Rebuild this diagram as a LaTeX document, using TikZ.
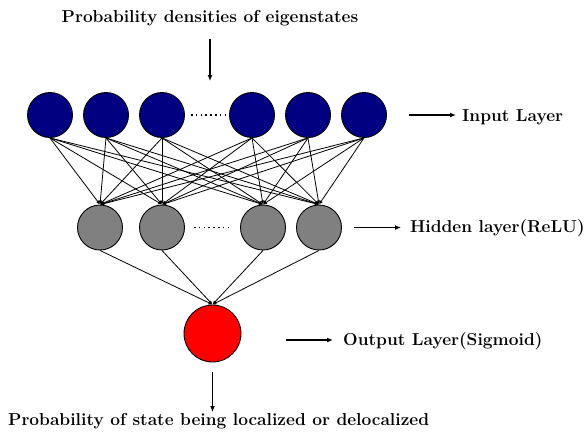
\documentclass[tikz,border=0pt]{standalone}
\usetikzlibrary{arrows.meta}
\definecolor{inblue}{RGB}{0,0,128}
\definecolor{hidgray}{RGB}{128,128,128}
\definecolor{outred}{RGB}{255,0,0}
\begin{document}
\begin{tikzpicture}[x=1pt,y=-1pt,
  neuron/.style={circle,draw=black,line width=0.9pt,inner sep=0pt,minimum size=45pt},
  inneuron/.style={neuron,fill=inblue},
  hidneuron/.style={neuron,fill=hidgray},
  outneuron/.style={neuron,fill=outred,minimum size=57pt},
  link/.style={line width=0.8pt,-{Latex[length=4pt,width=3.5pt]}},
  pointer/.style={line width=1.8pt,-{Latex[length=6pt,width=5pt]}},
  caption/.style={inner sep=0pt,font=\fontsize{17.3}{20}\selectfont\bfseries},
  ellipsis/.style={line width=1.6pt,dash pattern=on 1.6pt off 3.2pt}]
\useasboundingbox (0,0) rectangle (584,432);

% input layer
\foreach \i/\x in {1/50,2/106,3/162,4/252,5/308,6/364}
  \node[inneuron] (in\i) at (\x,115) {};
% hidden layer
\foreach \j/\x in {1/100,2/162,3/263,4/319}
  \node[hidneuron] (hid\j) at (\x,227.5) {};
% output layer
\node[outneuron] (out) at (212.5,333.5) {};

% dotted gaps
\coordinate (ida) at (191,115);
\coordinate (idb) at (227,115);
\draw[ellipsis] (ida) -- (idb);
\coordinate (hda) at (194,227.5);
\coordinate (hdb) at (232,227.5);
\draw[ellipsis] (hda) -- (hdb);

% connections
\foreach \i in {1,...,6}
  \foreach \j in {1,...,4}
    \draw[link] (in\i.south) -- (hid\j.north);
\foreach \j in {1,...,4}
  \draw[link] (hid\j.south) -- (out.north);

% captions and pointers
\node[caption,anchor=base] (topcap) at (210,22) {Probability densities of eigenstates};
\coordinate (ta) at (210,39);
\coordinate (tb) at (210,81);
\draw[pointer] (ta) -- (tb);

\coordinate (ia) at (409,115);
\coordinate (ib) at (456,115);
\draw[pointer] (ia) -- (ib);
\node[caption,anchor=base west] (incap) at (462,121) {Input Layer};

\coordinate (ha) at (354,227.5);
\coordinate (hb) at (401,227.5);
\draw[pointer] (ha) -- (hb);
\node[caption,anchor=base west] (hidcap) at (410,232) {Hidden layer(ReLU)};

\coordinate (oa) at (286,340);
\coordinate (ob) at (333,340);
\draw[pointer] (oa) -- (ob);
\node[caption,anchor=base west] (outcap) at (343,345) {Output Layer(Sigmoid)};

\coordinate (ba) at (212.5,372);
\coordinate (bb) at (212.5,412);
\draw[pointer] (ba) -- (bb);
\node[caption,anchor=base west] (botcap) at (8,425) {Probability of state being localized or delocalized};
\end{tikzpicture}
\end{document}
